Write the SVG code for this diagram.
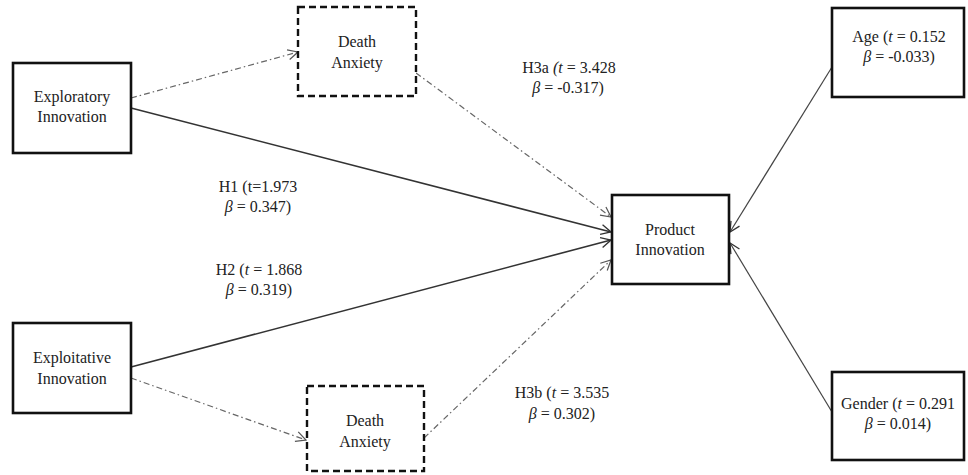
<svg xmlns="http://www.w3.org/2000/svg" width="968" height="475" viewBox="0 0 968 475">
<style>
.box{fill:#fff;stroke:#111;stroke-width:2.6}
.dbox{fill:#fff;stroke:#111;stroke-width:2.4;stroke-dasharray:7,4}
.t{font-family:"Liberation Serif","Times New Roman",serif;font-size:16px;fill:#222;text-anchor:middle}
.i{font-style:italic}
.solid{stroke:#333;stroke-width:1.6;fill:none;marker-end:url(#arr)}
.thin{stroke:#444;stroke-width:1.2;fill:none;marker-end:url(#arr)}
.dd{stroke:#666;stroke-width:1.2;fill:none;stroke-dasharray:6,3,1.5,3;marker-end:url(#arrg)}
</style>
<defs>
<marker id="arr" viewBox="0 0 12 12" refX="11" refY="6" markerWidth="12" markerHeight="12" markerUnits="userSpaceOnUse" orient="auto">
<path d="M1,1 L11,6 L1,11" fill="none" stroke="#333" stroke-width="1.3"/>
</marker>
<marker id="arrg" viewBox="0 0 12 12" refX="11" refY="6" markerWidth="12" markerHeight="12" markerUnits="userSpaceOnUse" orient="auto">
<path d="M1,1 L11,6 L1,11" fill="none" stroke="#555" stroke-width="1.2"/>
</marker>
</defs>
<rect width="968" height="475" fill="#fff"/>
<g id="connectors">
<line class="dd" x1="131" y1="98" x2="298" y2="52"/>
<line class="solid" x1="131" y1="108" x2="611" y2="232"/>
<line class="dd" x1="416" y1="73" x2="611" y2="217"/>
<line class="solid" x1="131" y1="367" x2="611" y2="240"/>
<line class="dd" x1="131" y1="378" x2="306" y2="440"/>
<line class="dd" x1="424" y1="438" x2="611" y2="260"/>
<line class="thin" x1="832" y1="67" x2="730" y2="232"/>
<line class="thin" x1="832" y1="412" x2="730" y2="243"/>
</g>
<g id="exploratory">
<rect class="box" x="13" y="63" width="118" height="90"/>
<text class="t" x="72" y="102">Exploratory</text>
<text class="t" x="72" y="122">Innovation</text>
</g>
<g id="death-anxiety-top">
<rect class="dbox" x="298" y="7" width="118" height="89"/>
<text class="t" x="357" y="47">Death</text>
<text class="t" x="357" y="68">Anxiety</text>
</g>
<g id="exploitative">
<rect class="box" x="13" y="323" width="118" height="90"/>
<text class="t" x="72" y="363">Exploitative</text>
<text class="t" x="72" y="384">Innovation</text>
</g>
<g id="death-anxiety-bottom">
<rect class="dbox" x="307" y="386" width="117" height="85"/>
<text class="t" x="365" y="426">Death</text>
<text class="t" x="365" y="447">Anxiety</text>
</g>
<g id="product">
<rect class="box" x="612" y="195" width="117" height="89"/>
<text class="t" x="670" y="235">Product</text>
<text class="t" x="670" y="255">Innovation</text>
</g>
<g id="age">
<rect class="box" x="832" y="8" width="132" height="89"/>
<text class="t" x="899" y="42">Age (<tspan class="i">t</tspan> = 0.152</text>
<text class="t" x="899" y="62"><tspan class="i">β</tspan> = -0.033)</text>
</g>
<g id="gender">
<rect class="box" x="832" y="372" width="132" height="88"/>
<text class="t" x="898" y="409">Gender (<tspan class="i">t</tspan> = 0.291</text>
<text class="t" x="898" y="429"><tspan class="i">β</tspan> = 0.014)</text>
</g>
<g id="labels">
<text class="t" x="258" y="192">H1 (t=1.973</text>
<text class="t" x="258" y="212"><tspan class="i">β</tspan> = 0.347)</text>
<text class="t" x="259" y="275">H2 (<tspan class="i">t</tspan> = 1.868</text>
<text class="t" x="259" y="295"><tspan class="i">β</tspan> = 0.319)</text>
<text class="t" x="569" y="73">H3a <tspan class="i">(t</tspan> = 3.428</text>
<text class="t" x="568" y="93"><tspan class="i">β</tspan> = -0.317)</text>
<text class="t" x="562" y="398">H3b (<tspan class="i">t</tspan> = 3.535</text>
<text class="t" x="562" y="419"><tspan class="i">β</tspan> = 0.302)</text>
</g>
</svg>
